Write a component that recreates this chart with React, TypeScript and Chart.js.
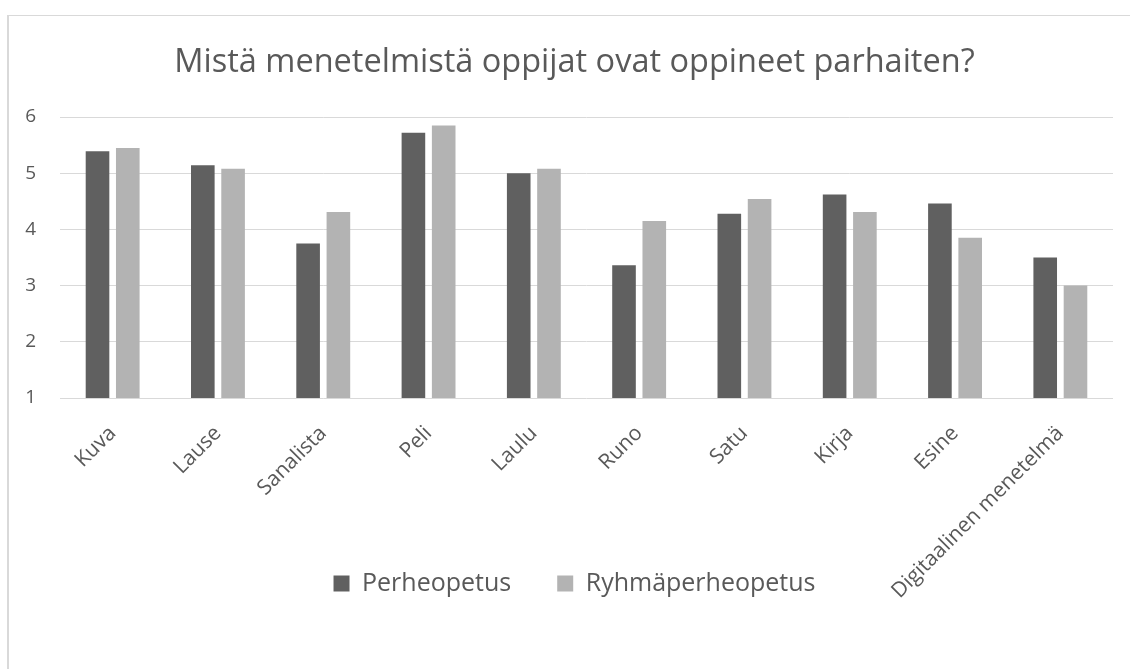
import React, { useEffect, useRef } from "react";
import { Chart, registerables } from "chart.js";

Chart.register(...registerables);

const categories = [
  "Kuva",
  "Lause",
  "Sanalista",
  "Peli",
  "Laulu",
  "Runo",
  "Satu",
  "Kirja",
  "Esine",
  "Digitaalinen menetelmä",
];
const perheopetus = [5.39, 5.14, 3.75, 5.72, 5.0, 3.36, 4.28, 4.62, 4.46, 3.5];
const ryhmaperheopetus = [5.45, 5.08, 4.31, 5.85, 5.08, 4.15, 4.54, 4.31, 3.85, 3.0];
const seriesNames = ["Perheopetus", "Ryhmäperheopetus"];
const yMin = 1;
const yMax = 6;
const titleText = "Mistä menetelmistä oppijat ovat oppineet parhaiten?";

const FONT = "'Open Sans', sans-serif";
const TEXT = "#595959";

export default function App() {
  const ref = useRef<HTMLCanvasElement | null>(null);

  useEffect(() => {
    if (!ref.current) return;
    const chart = new Chart(ref.current, {
      type: "bar",
      data: {
        labels: categories,
        datasets: [
          {
            label: seriesNames[0],
            data: perheopetus,
            backgroundColor: "#606060",
            borderWidth: 0,
            categoryPercentage: 0.575,
            barPercentage: 0.78,
          },
          {
            label: seriesNames[1],
            data: ryhmaperheopetus,
            backgroundColor: "#b3b3b3",
            borderWidth: 0,
            categoryPercentage: 0.575,
            barPercentage: 0.78,
          },
        ],
      },
      options: {
        responsive: false,
        animation: false,
        devicePixelRatio: 1,
        layout: { padding: { left: 12, right: 15, top: 0, bottom: 63 } },
        plugins: {
          tooltip: { enabled: false },
          title: {
            display: true,
            text: titleText,
            color: TEXT,
            font: { family: FONT, size: 32.5, weight: "normal" },
            padding: { top: 28, bottom: 35 },
          },
          legend: {
            position: "bottom",
            labels: {
              color: TEXT,
              font: { family: FONT, size: 25 },
              boxWidth: 16,
              boxHeight: 16,
              padding: 46,
            },
          },
        },
        scales: {
          x: {
            grid: { display: false },
            border: { display: false },
            ticks: {
              color: TEXT,
              font: { family: FONT, size: 21 },
              minRotation: 45,
              maxRotation: 45,
              padding: 15,
            },
            afterFit: (scale: any) => {
              scale.height = 127;
              scale._computeLabelArea = () => undefined;
            },
          },
          y: {
            min: yMin,
            max: yMax,
            grid: { color: "#d9d9d9", lineWidth: 1, drawTicks: false },
            border: { display: false },
            ticks: {
              stepSize: 1,
              color: TEXT,
              font: { family: FONT, size: 19 },
              padding: 24,
            },
            afterFit: (scale: any) => {
              scale.width = 40;
            },
          },
          spacer: {
            position: "right",
            display: true,
            grid: { display: false },
            border: { display: false },
            ticks: { display: false },
            afterFit: (scale: any) => {
              scale.width = 16;
            },
          },
        },
      },
    });
    return () => chart.destroy();
  }, []);

  return (
    <div
      style={{
        position: "fixed",
        left: 0,
        top: 0,
        width: 1130,
        height: 669,
        overflow: "hidden",
        background: "#ffffff",
      }}
    >
      <div
        style={{
          position: "absolute",
          left: 7,
          top: 15,
          width: 1300,
          height: 900,
          borderLeft: "2px solid #d9d9d9",
          borderTop: "1px solid #d9d9d9",
        }}
      />
      <canvas
        ref={ref}
        width={1136}
        height={654}
        style={{ position: "absolute", left: 8, top: 15, width: 1136, height: 654 }}
      />
    </div>
  );
}
